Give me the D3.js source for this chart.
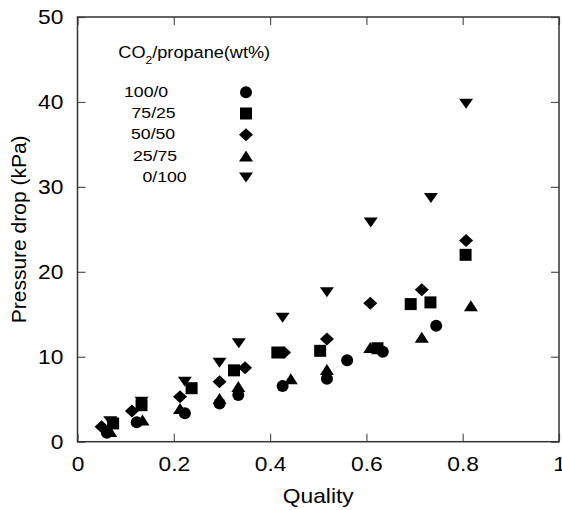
<!DOCTYPE html>
<html lang="en">
<head>
<meta charset="UTF-8">
<title>Pressure drop vs quality</title>
<script src="https://cdn.jsdelivr.net/npm/d3@7"></script>
<style>
  html, body { margin: 0; padding: 0; background: #fff; }
  svg { display: block; font-family: Arial, "Liberation Sans", sans-serif; }
</style>
</head>
<body>
<div id="chart"></div>
<script>
// data
var seriesNames = ["100/0", "75/25", "50/50", "25/75", "0/100"];
var seriesShapes = ["circle", "square", "diamond", "triangle", "triangleDown"];

var quality_100_0 = [0.061, 0.123, 0.223, 0.295, 0.334, 0.426, 0.518, 0.560, 0.634, 0.745];
var dp_100_0      = [1.05, 2.3, 3.35, 4.5, 5.5, 6.55, 7.4, 9.6, 10.6, 13.65];

var quality_75_25 = [0.074, 0.133, 0.237, 0.325, 0.415, 0.504, 0.623, 0.692, 0.733, 0.806];
var dp_75_25      = [2.15, 4.3, 6.3, 8.4, 10.5, 10.7, 11.0, 16.2, 16.4, 22.0];

var quality_50_50 = [0.050, 0.113, 0.213, 0.295, 0.348, 0.429, 0.518, 0.608, 0.715, 0.807];
var dp_50_50      = [1.76, 3.6, 5.3, 7.05, 8.7, 10.5, 12.1, 16.3, 17.9, 23.7];

var quality_25_75 = [0.068, 0.135, 0.213, 0.295, 0.334, 0.443, 0.518, 0.608, 0.715, 0.817];
var dp_25_75      = [1.2, 2.55, 3.9, 5.1, 6.5, 7.4, 8.5, 11.1, 12.3, 16.0];

var quality_0_100 = [0.068, 0.133, 0.223, 0.295, 0.335, 0.426, 0.518, 0.609, 0.734, 0.807];
var dp_0_100      = [2.4, 4.7, 7.05, 9.3, 11.6, 14.6, 17.6, 25.8, 28.7, 39.8];

var xTicks = [0, 0.2, 0.4, 0.6, 0.8, 1];
var yTicks = [0, 10, 20, 30, 40, 50];

var qualities = [quality_100_0, quality_75_25, quality_50_50, quality_25_75, quality_0_100];
var drops     = [dp_100_0, dp_75_25, dp_50_50, dp_25_75, dp_0_100];

// layout (plot box in page pixels)
var width = 562, height = 510;
var plotLeft = 77.5, plotRight = 559, plotTop = 17, plotBottom = 441.7;
var sx = 1.14; // glyphs in the figure are a bit wider than the font
var tickLen = 8;

var x = d3.scaleLinear().domain([0, 1]).range([plotLeft, plotRight]);
var y = d3.scaleLinear().domain([0, 50]).range([plotBottom, plotTop]);

var svg = d3.select("#chart").append("svg")
    .attr("width", width)
    .attr("height", height);

svg.append("rect").attr("width", width).attr("height", height).attr("fill", "#fff");

// marker paths, bbox centred on the point
function markerPath(shape) {
  switch (shape) {
    case "circle":
      return "M6,0A6,6 0 1,1 -6,0A6,6 0 1,1 6,0Z";
    case "square":
      return "M-6,-6H6V6H-6Z";
    case "diamond":
      return "M0,-6.5L7,0L0,6.5L-7,0Z";
    case "triangle":
      return "M0,-5.5L7,5.5L-7,5.5Z";
    case "triangleDown":
      return "M-7,-5L7,-5L0,5Z";
  }
}

// axes: ticks point inward on all four sides
function styleAxis(g) {
  g.select(".domain").remove();
  g.selectAll(".tick line").attr("stroke", "#555").attr("stroke-width", 1.2);
}

function styleLabels(g) {
  g.selectAll("text")
    .attr("font-size", 20)
    .attr("font-family", null)
    .attr("fill", "#000")
    .attr("transform", "scale(" + sx + ",1)");
}

svg.append("g")
    .attr("transform", "translate(0," + plotBottom + ")")
    .call(d3.axisBottom(x).tickValues(xTicks).tickFormat(d3.format("")).tickSize(-tickLen).tickPadding(15))
    .call(styleAxis)
    .call(styleLabels);

svg.append("g")
    .attr("transform", "translate(0," + plotTop + ")")
    .call(d3.axisTop(x).tickValues(xTicks).tickFormat("").tickSize(-tickLen))
    .call(styleAxis);

svg.append("g")
    .attr("transform", "translate(" + plotLeft + ",0)")
    .call(d3.axisLeft(y).tickValues(yTicks).tickSize(-tickLen).tickPadding(12.3))
    .call(styleAxis)
    .call(styleLabels);

svg.append("g")
    .attr("transform", "translate(" + plotRight + ",0)")
    .call(d3.axisRight(y).tickValues(yTicks).tickFormat("").tickSize(-tickLen))
    .call(styleAxis);

// frame
svg.append("rect")
    .attr("x", plotLeft).attr("y", plotTop)
    .attr("width", plotRight - plotLeft).attr("height", plotBottom - plotTop)
    .attr("fill", "none")
    .attr("stroke", "#333")
    .attr("stroke-width", 1.5);

// axis titles
svg.append("text")
    .attr("transform", "translate(" + ((plotLeft + plotRight) / 2) + ",503) scale(" + sx + ",1)")
    .attr("text-anchor", "middle")
    .attr("font-size", 20)
    .text("Quality");

svg.append("text")
    .attr("transform", "translate(26," + y(25) + ") rotate(-90)")
    .attr("text-anchor", "middle")
    .attr("font-size", 21)
    .text("Pressure drop (kPa)");

// points
seriesNames.forEach(function (name, i) {
  var pts = qualities[i].map(function (q, j) { return [q, drops[i][j]]; });
  svg.append("g").attr("class", "series")
    .selectAll("path")
    .data(pts)
    .enter().append("path")
    .attr("d", markerPath(seriesShapes[i]))
    .attr("transform", function (d) { return "translate(" + x(d[0]) + "," + y(d[1]) + ")"; })
    .attr("fill", "#000");
});

// legend
var legendTitle = svg.append("text")
    .attr("transform", "translate(118.3,58) scale(1.1,1)")
    .attr("font-size", 16.5);
legendTitle.append("tspan").text("CO");
legendTitle.append("tspan").attr("font-size", 11).attr("dy", 6).text("2");
legendTitle.append("tspan").attr("dy", -6).text("/propane(wt%)");

var legendLabelX = [124, 131.5, 131, 133, 142.5];
var legendRowY = 96.7, legendRowStep = 21.3, legendMarkerX = 246;

seriesNames.forEach(function (name, i) {
  var ry = legendRowY + i * legendRowStep;
  svg.append("text")
      .attr("transform", "translate(" + legendLabelX[i] + "," + ry + ") scale(" + sx + ",1)")
      .attr("font-size", 15.5)
      .text(name);
  svg.append("path")
      .attr("d", markerPath(seriesShapes[i]))
      .attr("transform", "translate(" + legendMarkerX + "," + (ry - 4.5) + ")")
      .attr("fill", "#000");
});
</script>
</body>
</html>
